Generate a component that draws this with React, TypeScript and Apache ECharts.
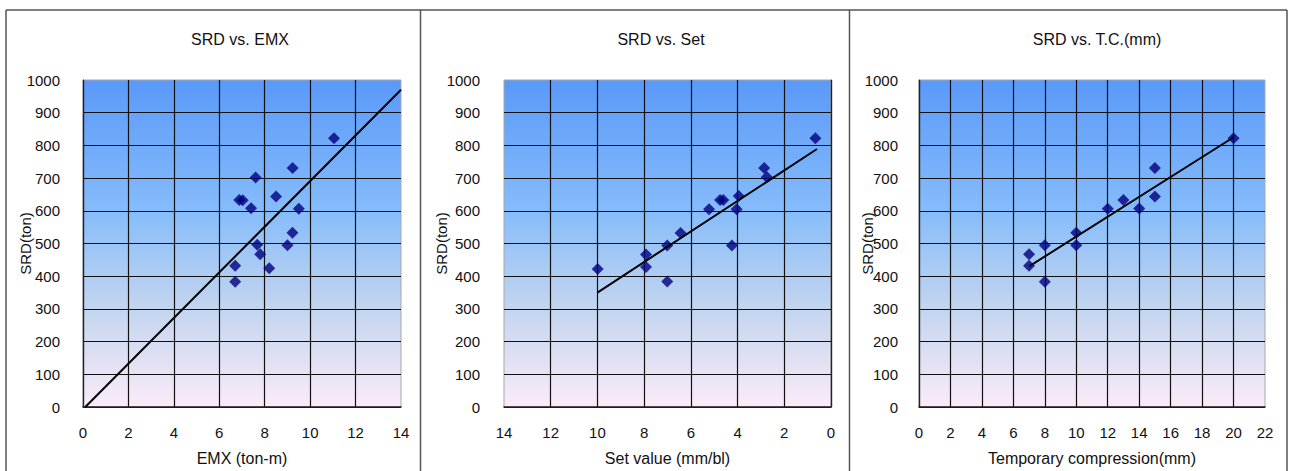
import React, { useEffect, useRef } from "react";
import * as echarts from "echarts";

// ---- data ----
const titles = ["SRD vs. EMX", "SRD vs. Set", "SRD vs. T.C.(mm)"];
const xNames = ["EMX (ton-m)", "Set value (mm/bl)", "Temporary compression(mm)"];
const yName = "SRD(ton)";

const emxPoints: number[][] = [
  [11.05, 822], [9.23, 731], [7.6, 702], [6.88, 633], [7.03, 632], [8.5, 644],
  [7.4, 608], [9.5, 606], [9.22, 533], [7.67, 496], [9.0, 495], [7.8, 467],
  [6.7, 432], [8.2, 424], [6.7, 383],
];
const setPoints: number[][] = [
  [0.67, 822], [2.86, 731], [2.75, 703], [4.75, 633], [4.61, 633], [3.95, 645],
  [5.22, 605], [4.04, 605], [6.44, 532], [7.01, 494], [7.92, 466], [7.92, 428],
  [9.99, 422], [4.24, 494], [7.01, 384],
];
const tcPoints: number[][] = [
  [20, 822], [15, 731], [15, 644], [13, 633], [12, 606], [14, 607],
  [10, 533], [10, 495], [8, 495], [7, 467], [7, 432], [8, 383],
];

const emxTrend: number[][] = [[0.1, 0], [14, 970]];
const setTrend: number[][] = [[10, 350], [0.6, 789]];
const tcTrend: number[][] = [[7, 430], [20, 825]];

const xMaxes = [14, 14, 22];
const yMax = 1000;

const FONT = "'Liberation Sans', Arial, sans-serif";

export default function App() {
  const ref = useRef<HTMLDivElement>(null);

  useEffect(() => {
    if (!ref.current) return;
    const chart = echarts.init(ref.current, null, { renderer: "svg" });

    const grids = [
      { left: 83, top: 80, width: 318, height: 327 },
      { left: 504, top: 80, width: 327, height: 327 },
      { left: 919, top: 80, width: 346, height: 327 },
    ];
    const yNameGaps = [50, 55, 44];
    const yLabelMargins = [23, 24, 21];
    const titleCenters = [240, 661, 1097];

    const bg = new echarts.graphic.LinearGradient(0, 0, 0, 1, [
      { offset: 0, color: "#5a99f9" },
      { offset: 0.4, color: "#86bcfb" },
      { offset: 0.7, color: "#c3d5ef" },
      { offset: 1, color: "#fbebf8" },
    ]);

    const pointSets = [emxPoints, setPoints, tcPoints];
    const trends = [emxTrend, setTrend, tcTrend];

    const option: any = {
      animation: false,
      backgroundColor: "#ffffff",
      grid: grids.map((g) => ({
        ...g,
        show: true,
        backgroundColor: bg,
        borderColor: "#a8a8a8",
        borderWidth: 1,
        containLabel: false,
      })),
      xAxis: grids.map((_, i) => ({
        type: "value",
        gridIndex: i,
        min: 0,
        max: xMaxes[i],
        interval: 2,
        inverse: i === 1,
        name: xNames[i],
        nameLocation: "middle",
        nameGap: 43,
        nameMoveOverlap: false,
        nameTextStyle: { color: "#111", fontSize: 16, fontFamily: FONT },
        axisLine: { show: true, lineStyle: { color: "#222", width: 1.5 } },
        axisTick: { show: false },
        axisLabel: {
          color: "#111",
          fontSize: 15,
          fontFamily: FONT,
          margin: 18,
          formatter: (v: number) => String(v),
        },
        splitLine: {
          show: true,
          showMaxLine: false,
          lineStyle: { color: "#111", width: 1.2 },
        },
      })),
      yAxis: grids.map((_, i) => ({
        type: "value",
        gridIndex: i,
        min: 0,
        max: yMax,
        interval: 100,
        name: yName,
        nameLocation: "middle",
        nameGap: yNameGaps[i],
        nameMoveOverlap: false,
        nameTextStyle: { color: "#111", fontSize: 15, fontFamily: FONT },
        axisLine: { show: true, lineStyle: { color: "#222", width: 1.2 } },
        axisTick: { show: false },
        axisLabel: {
          color: "#111",
          fontSize: 15,
          fontFamily: FONT,
          margin: yLabelMargins[i],
          formatter: (v: number) => String(v),
        },
        splitLine: {
          show: true,
          showMaxLine: false,
          lineStyle: { color: "#111", width: 1.2 },
        },
      })),
      series: [
        ...pointSets.map((pts, i) => ({
          type: "scatter",
          xAxisIndex: i,
          yAxisIndex: i,
          data: pts,
          symbol: "diamond",
          symbolSize: 12,
          itemStyle: { color: "#000080" },
          z: 3,
        })),
        ...trends.map((t, i) => ({
          type: "line",
          xAxisIndex: i,
          yAxisIndex: i,
          data: t,
          symbol: "none",
          lineStyle: { color: "#000", width: 2 },
          z: 4,
        })),
      ],
      graphic: [
        // frame
        { type: "line", shape: { x1: 6, y1: 10, x2: 1287, y2: 10 }, style: { stroke: "#555", lineWidth: 1.5 } },
        { type: "line", shape: { x1: 6, y1: 10, x2: 6, y2: 471 }, style: { stroke: "#555", lineWidth: 1.5 } },
        { type: "line", shape: { x1: 420.5, y1: 10, x2: 420.5, y2: 471 }, style: { stroke: "#555", lineWidth: 1.5 } },
        { type: "line", shape: { x1: 849.5, y1: 10, x2: 849.5, y2: 471 }, style: { stroke: "#555", lineWidth: 1.5 } },
        { type: "line", shape: { x1: 1287, y1: 10, x2: 1287, y2: 471 }, style: { stroke: "#555", lineWidth: 1.5 } },
        ...titles.map((t, i) => ({
          type: "text",
          x: titleCenters[i],
          y: 39,
          style: {
            text: t,
            fill: "#111",
            font: `16px ${FONT}`,
            align: "center",
            verticalAlign: "middle",
          },
        })),
      ],
    };

    chart.setOption(option);
    return () => chart.dispose();
  }, []);

  return (
    <div
      ref={ref}
      style={{ position: "absolute", left: 0, top: 0, width: 1290, height: 471 }}
    />
  );
}
